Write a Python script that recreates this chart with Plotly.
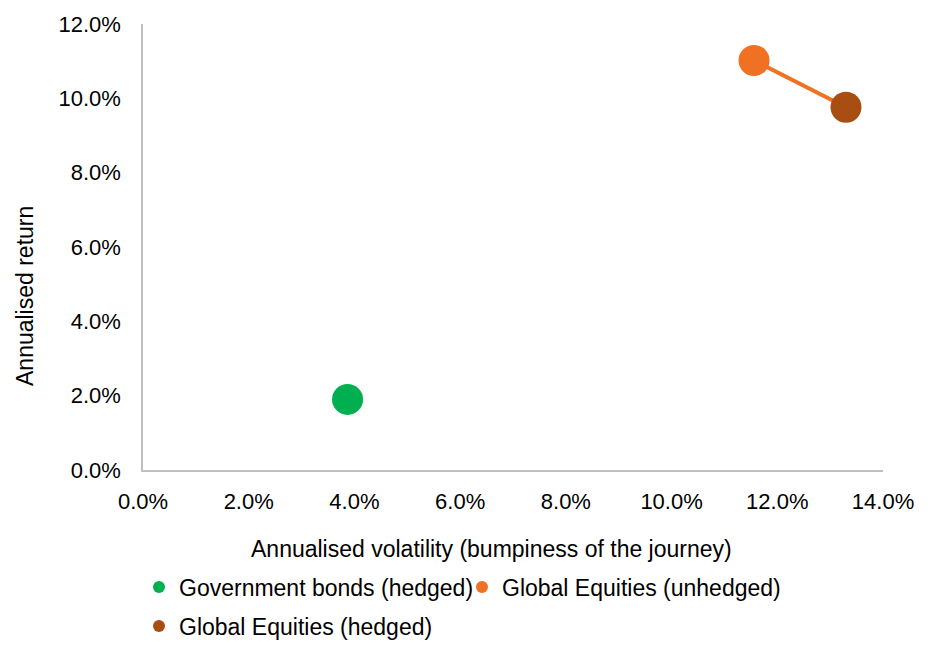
import plotly.graph_objects as go

# Data (percent)
series_names = ["Government bonds (hedged)", "Global Equities (unhedged)", "Global Equities (hedged)"]
volatility = [3.87, 11.56, 13.30]
returns = [1.90, 11.02, 9.76]
colors = ["#00B050", "#F07122", "#A84E12"]
x_ticks = [0, 2, 4, 6, 8, 10, 12, 14]
y_ticks = [0, 2, 4, 6, 8, 10, 12]

FONT = "Liberation Sans, Arial, sans-serif"

fig = go.Figure()

# connecting line between unhedged and hedged equities
fig.add_trace(go.Scatter(
    x=[volatility[1], volatility[2]], y=[returns[1], returns[2]],
    mode="lines", line=dict(color=colors[1], width=4),
    showlegend=False, hoverinfo="skip"))

legends = ["legend", "legend2", "legend3"]
for name, xv, yv, c, lg in zip(series_names, volatility, returns, colors, legends):
    fig.add_trace(go.Scatter(
        x=[xv], y=[yv], mode="markers", name=name,
        marker=dict(color=c, size=31, line=dict(width=0)),
        legend=lg))

# page has an 8px body margin; plot area targeted at page x 143..883, y 24..470
PW = 740
PH = 446


def legend_at(left_px, center_y_px):
    return dict(orientation="h", x=(left_px - 143) / PW, xanchor="left",
                y=(470 - center_y_px) / PH, yanchor="middle",
                font=dict(size=23), itemsizing="constant",
                itemwidth=30, bgcolor="rgba(0,0,0,0)")


fig.update_layout(
    width=923, height=636,
    margin=dict(l=135, r=48, t=16, b=174, autoexpand=False),
    paper_bgcolor="white", plot_bgcolor="white",
    font=dict(family=FONT, size=22, color="#000000"),
    xaxis=dict(range=[0, 14], tickvals=x_ticks,
               ticktext=[f"{v:.1f}%" for v in x_ticks],
               showgrid=False, zeroline=False, showline=True,
               linecolor="#BFBFBF", linewidth=1.5, ticks="",
               ticklabelstandoff=11, fixedrange=True, automargin=False),
    yaxis=dict(range=[0, 12], tickvals=y_ticks,
               ticktext=[f"{v:.1f}%" for v in y_ticks],
               showgrid=False, zeroline=False, showline=True,
               linecolor="#BFBFBF", linewidth=1.5, ticks="",
               ticklabelstandoff=16, fixedrange=True, automargin=False),
    legend=legend_at(139, 587),
    legend2=legend_at(462, 587),
    legend3=legend_at(139, 626),
    annotations=[
        dict(text="Annualised return", xref="paper", yref="paper",
             x=(25 - 143) / PW, y=(470 - 296) / PH, textangle=-90,
             showarrow=False, xanchor="center", yanchor="middle",
             font=dict(size=23)),
        dict(text="Annualised volatility (bumpiness of the journey)",
             xref="paper", yref="paper",
             x=(491 - 143) / PW, y=(470 - 549) / PH,
             showarrow=False, xanchor="center", yanchor="middle",
             font=dict(size=23)),
    ],
    showlegend=True,
)

fig.write_html("out.html")
